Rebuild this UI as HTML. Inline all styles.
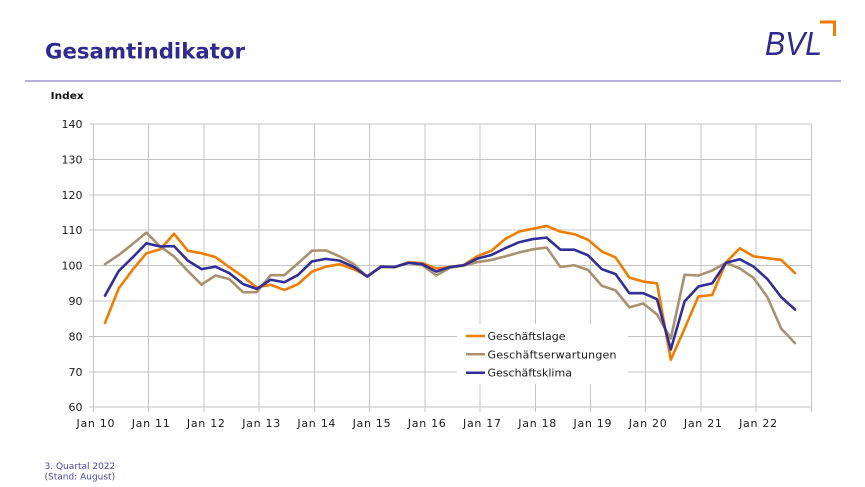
<!DOCTYPE html>
<html>
<head>
<meta charset="utf-8">
<style>
  html,body{margin:0;padding:0;background:#fff;}
  body{width:865px;height:487px;overflow:hidden;}
  svg{display:block;}
  .yl{font-family:"DejaVu Sans","Liberation Sans",sans-serif;font-size:11px;fill:#1a1a1a;text-anchor:end;}
  .xl{font-family:"DejaVu Sans","Liberation Sans",sans-serif;font-size:11px;fill:#1a1a1a;text-anchor:middle;}
  .lg{font-family:"DejaVu Sans","Liberation Sans",sans-serif;font-size:11px;fill:#1a1a1a;}
</style>
</head>
<body>
<svg width="865" height="487" viewBox="0 0 865 487" xmlns="http://www.w3.org/2000/svg">
  <rect x="0" y="0" width="865" height="487" fill="#fff"/>
  <!-- Header -->
  <text x="45" y="58.5" font-family="DejaVu Sans, Liberation Sans, sans-serif" font-weight="bold" font-size="21.5" fill="#2f2a8f" textLength="200" lengthAdjust="spacingAndGlyphs">Gesamtindikator</text>
  <line x1="25" y1="81" x2="841" y2="81" stroke="#9e98d2" stroke-width="1.5"/>
  <text x="765" y="55" font-family="Liberation Sans, sans-serif" font-style="italic" font-size="33" fill="#2f2a8f" textLength="57" lengthAdjust="spacingAndGlyphs">BVL</text>
  <polyline points="820,22 834.5,22 834.5,36" fill="none" stroke="#f07d00" stroke-width="3"/>
  <text x="50.7" y="99" font-family="DejaVu Sans, Liberation Sans, sans-serif" font-weight="bold" font-size="9.5" fill="#111" textLength="33" lengthAdjust="spacingAndGlyphs">Index</text>

  <!-- Grid -->
  <g stroke="#c4c4c4" stroke-width="1" shape-rendering="crispEdges">
    <line x1="89" y1="407.2" x2="811.4" y2="407.2"/>
    <line x1="89" y1="371.8" x2="811.4" y2="371.8"/>
    <line x1="89" y1="336.4" x2="811.4" y2="336.4"/>
    <line x1="89" y1="301.0" x2="811.4" y2="301.0"/>
    <line x1="89" y1="265.6" x2="811.4" y2="265.6"/>
    <line x1="89" y1="230.2" x2="811.4" y2="230.2"/>
    <line x1="89" y1="194.8" x2="811.4" y2="194.8"/>
    <line x1="89" y1="159.4" x2="811.4" y2="159.4"/>
    <line x1="89" y1="124.0" x2="811.4" y2="124.0"/>
    <line x1="93.5" y1="124" x2="93.5" y2="412"/>
    <line x1="148.7" y1="124" x2="148.7" y2="412"/>
    <line x1="203.9" y1="124" x2="203.9" y2="412"/>
    <line x1="259.2" y1="124" x2="259.2" y2="412"/>
    <line x1="314.4" y1="124" x2="314.4" y2="412"/>
    <line x1="369.6" y1="124" x2="369.6" y2="412"/>
    <line x1="424.8" y1="124" x2="424.8" y2="412"/>
    <line x1="480.0" y1="124" x2="480.0" y2="412"/>
    <line x1="535.3" y1="124" x2="535.3" y2="412"/>
    <line x1="590.5" y1="124" x2="590.5" y2="412"/>
    <line x1="645.7" y1="124" x2="645.7" y2="412"/>
    <line x1="700.9" y1="124" x2="700.9" y2="412"/>
    <line x1="756.1" y1="124" x2="756.1" y2="412"/>
    <line x1="811.4" y1="124" x2="811.4" y2="412"/>
  </g>

  <!-- Y labels -->
  <text class="yl" x="82.5" y="411.2">60</text>
  <text class="yl" x="82.5" y="375.8">70</text>
  <text class="yl" x="82.5" y="340.4">80</text>
  <text class="yl" x="82.5" y="305.0">90</text>
  <text class="yl" x="82.5" y="269.6">100</text>
  <text class="yl" x="82.5" y="234.2">110</text>
  <text class="yl" x="82.5" y="198.8">120</text>
  <text class="yl" x="82.5" y="163.4">130</text>
  <text class="yl" x="82.5" y="128.0">140</text>

  <!-- X labels -->
  <g class="xl">
    <text class="xl" x="95.5" y="427" textLength="38" lengthAdjust="spacing">Jan 10</text>
    <text class="xl" x="150.7" y="427" textLength="38" lengthAdjust="spacing">Jan 11</text>
    <text class="xl" x="205.9" y="427" textLength="38" lengthAdjust="spacing">Jan 12</text>
    <text class="xl" x="261.2" y="427" textLength="38" lengthAdjust="spacing">Jan 13</text>
    <text class="xl" x="316.4" y="427" textLength="38" lengthAdjust="spacing">Jan 14</text>
    <text class="xl" x="371.6" y="427" textLength="38" lengthAdjust="spacing">Jan 15</text>
    <text class="xl" x="426.8" y="427" textLength="38" lengthAdjust="spacing">Jan 16</text>
    <text class="xl" x="482.0" y="427" textLength="38" lengthAdjust="spacing">Jan 17</text>
    <text class="xl" x="537.3" y="427" textLength="38" lengthAdjust="spacing">Jan 18</text>
    <text class="xl" x="592.5" y="427" textLength="38" lengthAdjust="spacing">Jan 19</text>
    <text class="xl" x="647.7" y="427" textLength="38" lengthAdjust="spacing">Jan 20</text>
    <text class="xl" x="702.9" y="427" textLength="38" lengthAdjust="spacing">Jan 21</text>
    <text class="xl" x="758.1" y="427" textLength="38" lengthAdjust="spacing">Jan 22</text>
  </g>

  <!-- Legend -->
  <rect x="457" y="324" width="171" height="60" fill="#fff"/>
  <line x1="466" y1="336" x2="485" y2="336" stroke="#f07d00" stroke-width="2.5"/>
  <line x1="466" y1="354.3" x2="485" y2="354.3" stroke="#a8916f" stroke-width="2.5"/>
  <line x1="466" y1="372.7" x2="485" y2="372.7" stroke="#332e97" stroke-width="2.5"/>
  <text class="lg" x="487.5" y="340">Geschäftslage</text>
  <text class="lg" x="487.5" y="358.3" textLength="129" lengthAdjust="spacing">Geschäftserwartungen</text>
  <text class="lg" x="487.5" y="376.7">Geschäftsklima</text>

  <!-- Series -->
  <g transform="matrix(13.8 0 0 -3.54 105 619.6)" fill="none" stroke-linejoin="round" stroke-linecap="round">
    <polyline vector-effect="non-scaling-stroke" stroke="#f07d00" stroke-width="2.6"
      points="0,83.8 1,93.6 2,98.8 3,103.5 4,104.6 5,109.0 6,104.2 7,103.5 8,102.4 9,99.6 10,96.9 11,93.8 12,94.6 13,93.1 14,94.8 15,98.3 16,99.7 17,100.4 18,99.0 19,97.1 20,99.6 21,99.6 22,100.9 23,100.7 24,99.2 25,99.6 26,100.2 27,102.7 28,104.2 29,107.5 30,109.6 31,110.4 32,111.2 33,109.6 34,108.9 35,107.3 36,104.0 37,102.3 38,96.6 39,95.5 40,95.0 41,73.4 42,82.2 43,91.3 44,91.7 45,100.9 46,104.9 47,102.6 48,102.1 49,101.6 50,97.9"/>
    <polyline vector-effect="non-scaling-stroke" stroke="#a8916f" stroke-width="2.6"
      points="0,100.4 1,103.0 2,106.1 3,109.3 4,105.4 5,102.6 6,98.5 7,94.6 8,97.2 9,96.2 10,92.5 11,92.5 12,97.3 13,97.3 14,100.7 15,104.2 16,104.3 17,102.6 18,100.5 19,96.8 20,99.8 21,99.6 22,100.7 23,100.1 24,97.2 25,99.4 26,100.0 27,101.0 28,101.6 29,102.6 30,103.7 31,104.6 32,105.1 33,99.6 34,100.1 35,98.8 36,94.3 37,93.0 38,88.2 39,89.3 40,86.2 41,79.4 42,97.4 43,97.2 44,98.6 45,100.8 46,99.2 47,96.5 48,91.1 49,82.2 50,78.1"/>
    <polyline vector-effect="non-scaling-stroke" stroke="#332e97" stroke-width="2.6"
      points="0,91.5 1,98.5 2,102.3 3,106.3 4,105.4 5,105.5 6,101.4 7,99.0 8,99.7 9,97.9 10,94.8 11,93.4 12,96.0 13,95.3 14,97.4 15,101.2 16,101.9 17,101.4 18,99.7 19,96.9 20,99.7 21,99.6 22,100.8 23,100.4 24,98.3 25,99.6 26,100.1 27,102.0 28,103.0 29,104.9 30,106.6 31,107.5 32,107.9 33,104.5 34,104.5 35,102.9 36,99.0 37,97.6 38,92.2 39,92.2 40,90.5 41,76.3 42,89.9 43,94.1 44,95.0 45,100.8 46,101.8 47,99.7 48,96.2 49,91.1 50,87.6"/>
  </g>

  <!-- Footer -->
  <text x="44.5" y="469" font-family="DejaVu Sans, Liberation Sans, sans-serif" font-size="9" fill="#4b47a8">3. Quartal 2022</text>
  <text x="44.5" y="479.5" font-family="DejaVu Sans, Liberation Sans, sans-serif" font-size="9" fill="#4b47a8">(Stand: August)</text>
</svg>
</body>
</html>
